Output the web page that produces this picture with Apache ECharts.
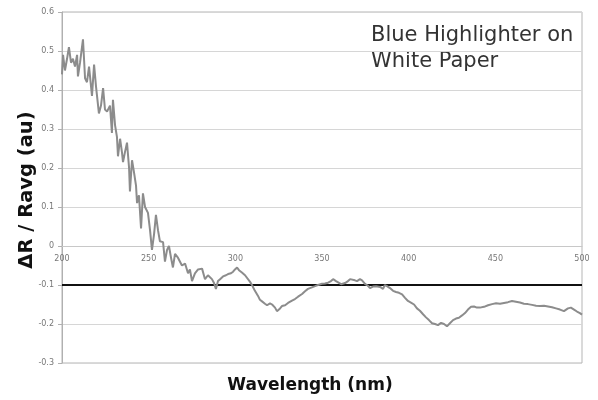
<!DOCTYPE html>
<html>
<head>
<meta charset="utf-8">
<script src="https://cdn.jsdelivr.net/npm/echarts@6/dist/echarts.min.js"></script>
<style>
html,body{margin:0;padding:0;background:#fff;}
#chart{width:598px;height:400px;}
</style>
</head>
<body>
<div id="chart"></div>
<script>
// Wavelength (nm)
var wavelength = [
200,200.6,201.7,202.9,204,205.2,206.3,207.5,208.7,209.2,210.4,212.1,213.3,214.4,215.6,217.3,218.5,219.6,221.3,222.5,
223.7,224.8,226,227.7,228.8,229.4,230.6,231.7,232.3,233.5,234.6,235.2,236.3,237.5,238.7,239.2,240.4,241.5,242.7,243.3,
244.4,245.6,246.7,247.9,249.6,250.8,251.9,253.1,254.2,255.4,256.5,258.3,259.4,260.6,261.7,262.9,264,265.2,266.9,268,
269.2,271,272.7,273.8,275,276.7,278.5,279.6,280.8,282.5,284.2,286.5,287.7,288.8,290,291.2,292.9,294.6,295.8,297.5,
298.7,299.8,301,302.1,303.8,305.6,306.7,308.5,309.6,311.3,313.1,314.2,315.4,317.1,318.3,320,321.2,322.9,324,325.8,
326.9,328.7,330.4,332.7,334.4,336.2,338.5,340.2,341.9,344.2,346,347.7,350,351.7,353.5,355.2,356.4,358.1,359.2,361,
363.3,365,366.2,367.3,369,370.2,371.9,373.1,374.8,376.5,377.7,379.4,381.2,383.5,385.2,386.3,387.5,389.2,391,392.7,
394.4,396.2,397.9,399.6,401.3,403.1,404.8,406.5,408.3,410,411.7,413.5,415.2,416.9,418.7,420.4,422.1,423.8,425.6,427.3,
429,430.8,432.5,434.2,436,437.7,439.4,441.1,443.5,445.8,448.1,450.4,452.7,455,457.3,459.6,461.9,464.2,466.5,468.8,
471.2,473.5,475.8,478.1,480.4,482.7,485,487.3,489.6,491.9,493.6,495.4,497.1,498.8,500
];
// ΔR / Ravg (au)
var deltaR = [
0.44,0.49,0.45,0.48,0.51,0.47,0.48,0.46,0.49,0.435,0.47,0.53,0.43,0.42,0.46,0.385,0.465,0.41,0.34,0.36,
0.405,0.35,0.345,0.36,0.29,0.375,0.31,0.28,0.23,0.275,0.24,0.215,0.24,0.265,0.2,0.14,0.22,0.19,0.155,0.11,
0.13,0.045,0.135,0.1,0.085,0.04,-0.01,0.03,0.08,0.04,0.012,0.01,-0.04,-0.01,0.0,-0.03,-0.055,-0.02,-0.03,-0.025,
-0.05,-0.045,-0.07,-0.06,-0.09,-0.07,-0.06,-0.065,-0.058,-0.085,-0.075,-0.085,-0.095,-0.11,-0.09,-0.085,-0.078,-0.075,-0.072,-0.07,
-0.066,-0.06,-0.055,-0.062,-0.068,-0.075,-0.08,-0.092,-0.1,-0.115,-0.128,-0.138,-0.142,-0.148,-0.152,-0.147,-0.15,-0.158,-0.167,-0.16,
-0.154,-0.152,-0.146,-0.14,-0.136,-0.13,-0.123,-0.116,-0.11,-0.106,-0.103,-0.1,-0.097,-0.096,-0.094,-0.09,-0.085,-0.09,-0.088,-0.098,
-0.095,-0.09,-0.085,-0.082,-0.088,-0.09,-0.085,-0.088,-0.097,-0.102,-0.108,-0.104,-0.103,-0.105,-0.11,-0.1,-0.103,-0.108,-0.115,-0.118,
-0.12,-0.124,-0.133,-0.141,-0.145,-0.15,-0.16,-0.166,-0.175,-0.183,-0.19,-0.198,-0.2,-0.203,-0.197,-0.2,-0.206,-0.198,-0.19,-0.186,
-0.184,-0.178,-0.172,-0.163,-0.156,-0.155,-0.158,-0.158,-0.156,-0.152,-0.149,-0.147,-0.148,-0.146,-0.144,-0.141,-0.143,-0.145,-0.148,-0.149,
-0.151,-0.153,-0.154,-0.153,-0.155,-0.157,-0.16,-0.163,-0.167,-0.16,-0.158,-0.163,-0.168,-0.172,-0.176
];
var referenceLevel = -0.1;
var yTicks = { min: -0.3, max: 0.6, step: 0.1 };
var xTicks = { min: 200, max: 500, step: 50 };
var yTitle = 'ΔR / Ravg (au)';
var xTitle = 'Wavelength (nm)';
var noteLines = ['Blue Highlighter on', 'White Paper'];

var points = wavelength.map(function (w, i) { return [w, deltaR[i]]; });

var gridTop = 12, gridBottom = 37, chartH = 400;
var plotH = chartH - gridTop - gridBottom;
// shift the x axis up so it sits on the y = 0 line (Excel style crossing)
var zeroFromBottom = plotH * (0 - yTicks.min) / (yTicks.max - yTicks.min);

var chart = echarts.init(document.getElementById('chart'), null, { renderer: 'canvas' });
chart.setOption({
  animation: false,
  backgroundColor: '#fff',
  grid: { left: 62, right: 16, top: gridTop, bottom: gridBottom, show: true, borderColor: '#b5b5b5', borderWidth: 1, containLabel: false },
  xAxis: {
    type: 'value', min: xTicks.min, max: xTicks.max, interval: xTicks.step,
    offset: -zeroFromBottom,
    axisLine: { onZero: false, lineStyle: { color: '#c8c8c8', width: 1 } },
    axisTick: { show: false },
    splitLine: { show: false },
    axisLabel: { color: '#777', fontSize: 8, fontFamily: 'DejaVu Sans', margin: 9 }
  },
  yAxis: {
    type: 'value', min: yTicks.min, max: yTicks.max, interval: yTicks.step,
    axisLine: { show: true, onZero: false, lineStyle: { color: '#b0b0b0', width: 1 } },
    axisTick: { show: true, length: 4, lineStyle: { color: '#b0b0b0' } },
    splitLine: { show: true, lineStyle: { color: '#d6d6d6', width: 1 } },
    axisLabel: {
      color: '#777', fontSize: 8, fontFamily: 'DejaVu Sans', margin: 8,
      formatter: function (v) { return Math.abs(v) < 1e-9 ? '0' : v.toFixed(1); }
    }
  },
  series: [{
    type: 'line',
    data: points,
    symbol: 'none',
    lineStyle: { color: '#8c8c8c', width: 2 },
    z: 3,
    markLine: {
      silent: true,
      symbol: ['none', 'none'],
      label: { show: false },
      lineStyle: { color: '#111', width: 2, type: 'solid' },
      data: [{ yAxis: referenceLevel }],
      z: 2
    }
  }],
  graphic: [
    {
      type: 'text', x: 27, y: 190, rotation: Math.PI / 2,
      style: { text: yTitle, font: 'bold 19.5px "DejaVu Sans"', fill: '#111', align: 'center', verticalAlign: 'middle' }
    },
    {
      type: 'text', x: 310, y: 386,
      style: { text: xTitle, font: 'bold 17px "DejaVu Sans"', fill: '#111', align: 'center', verticalAlign: 'middle' }
    },
    {
      type: 'text', x: 371, y: 23,
      style: { text: noteLines.join('\n'), font: '21px "DejaVu Sans"', lineHeight: 26, fill: '#333', align: 'left', verticalAlign: 'top' }
    }
  ]
});
</script>
</body>
</html>
